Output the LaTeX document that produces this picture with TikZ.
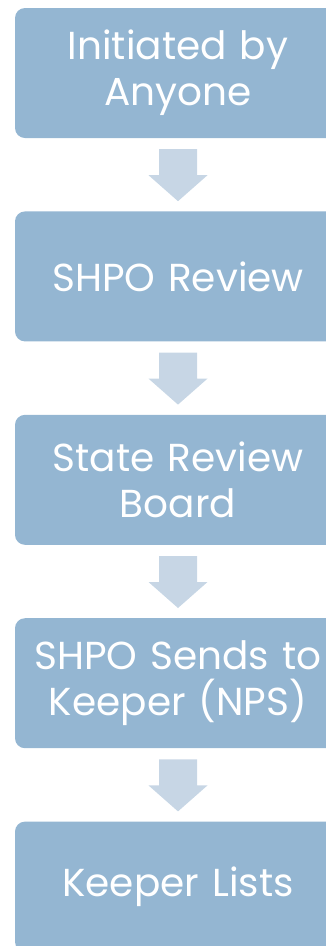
\documentclass[tikz,border=0pt]{standalone}
\usepackage{fontspec}
\setmainfont{Poppins}
\usetikzlibrary{positioning,calc}
\definecolor{boxblue}{RGB}{148,182,210}
\definecolor{arrowblue}{RGB}{199,214,229}
\tikzset{
    stepbox/.style={
        rectangle,
        rounded corners=10pt,
        fill=boxblue,
        text=white,
        minimum width=326pt,
        minimum height=130pt,
        text width=310pt,
        align=center,
        inner sep=0pt,
        font=\fontsize{39}{46}\selectfont
    }
}
\begin{document}
\begin{tikzpicture}[x=1pt,y=1pt,node distance=73pt]
        % Area visibile
        \useasboundingbox (0,0) rectangle (326,-946);
        \clip (0,0) rectangle (326,-946);

        % Caselle
        \node[stepbox] (init) at (178,-73) {Initiated by\\Anyone};
        \node[stepbox, below=of init] (shpo) {SHPO Review};
        \node[stepbox, below=of shpo] (board) {State Review\\Board};
        \node[stepbox, below=of board] (sends) {SHPO Sends to\\Keeper (NPS)};
        \node[stepbox, below=of sends] (lists) {Keeper Lists};

        % Frecce tra le caselle
        \foreach \a/\b in {init/shpo, shpo/board, board/sends, sends/lists}
        {
            \fill[arrowblue] ($(\a.south)+(-19,-11)$) -- ($(\a.south)+(19,-11)$)
                -- ($(\b.north)+(19,36)$) -- ($(\b.north)+(29.5,36)$)
                -- ($(\b.north)+(0,10)$) -- ($(\b.north)+(-29.5,36)$)
                -- ($(\b.north)+(-19,36)$) -- cycle;
        }
    \end{tikzpicture}
\end{document}
